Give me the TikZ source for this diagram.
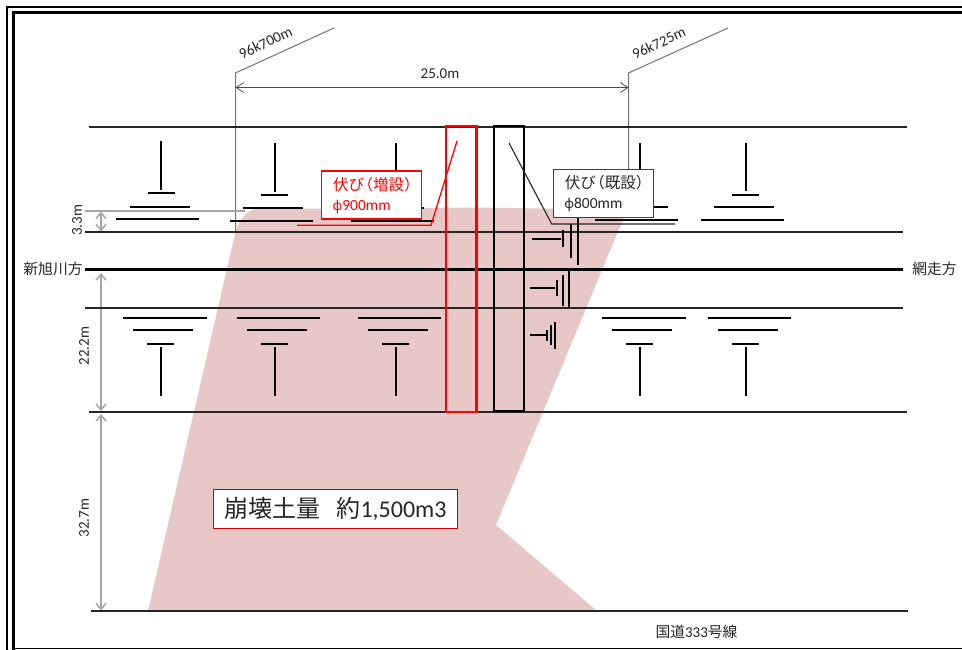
\documentclass[tikz,border=0pt]{standalone}
\usepackage{fontspec}
\usetikzlibrary{arrows.meta}
\setmainfont{Carlito}
\newfontfamily\cjk{Noto Sans CJK JP}
\newfontfamily\gk{Noto Sans}
\definecolor{soil}{HTML}{E8C7C7}
\definecolor{dimgrey}{HTML}{A6A6A6}
\definecolor{txt}{HTML}{262626}
\newcommand{\sz}[1]{\fontsize{#1}{20}\selectfont}
\tikzset{
  rail/.style={line width=1.8pt,draw=black!85},
  mainrail/.style={line width=2.6pt,draw=black},
  sleeper/.style={line width=2pt,draw=black},
  thinbar/.style={line width=1.6pt,draw=black},
  pipe/.style={line width=2.8pt},
  leader/.style={line width=1pt,draw=black!55},
  dim/.style={line width=1.5pt,draw=dimgrey,{Straight Barb[length=6pt,width=10pt]}-{Straight Barb[length=6pt,width=10pt]}},
  dimtop/.style={line width=0.8pt,draw=black!70,{Straight Barb[length=7.5pt,width=10pt]}-{Straight Barb[length=7.5pt,width=10pt]}},
  lab/.style={inner sep=0pt,text=txt,font=\sz{15}},
  callout/.style={draw,fill=white,line width=1.3pt,minimum width=100pt,minimum height=48pt,inner sep=0pt,align=left,font=\sz{15.5}},
}
\newcommand{\toprow}[5]{%
  \draw[sleeper] (#1,#2) -- (#1,#3-3.5);
  \draw[sleeper] (#1-13.5,#3) -- (#1+13.5,#3);
  \draw[sleeper] (#1-31.5,#4) -- (#1+28.5,#4);
  \draw[sleeper] (#1-45,#5) -- (#1+38,#5);}
\newcommand{\botrow}[1]{%
  \draw[sleeper] (#1-38,318) -- (#1+45.5,318);
  \draw[sleeper] (#1-28,330.3) -- (#1+32,330.3);
  \draw[sleeper] (#1-14,344) -- (#1+13,344);
  \draw[sleeper] (#1,347) -- (#1,396);}
\begin{document}
\begin{tikzpicture}[x=1pt,y=-1pt]
\useasboundingbox (0,0) rectangle (962,650);
\fill[white] (0,0) rectangle (962,650);
% soil
\fill[soil] (148,611) -- (235.5,232) .. controls (238,222) and (247,209) .. (257,209)
  -- (480,207.5) -- (627,210) -- (496,525) -- (597,611) -- cycle;
% frame
\draw[line width=2.6pt] (7,650) -- (7,7) -- (962,7);
\draw[line width=3pt] (13,650) -- (13,12.5) -- (962,12.5);
\draw[line width=1.6pt] (13,648.5) -- (962,648.5);
% km leaders
\coordinate (kmA) at (235.5,73);
\coordinate (kmB) at (628.5,73);
\draw[leader] (334,28) -- (kmA) -- (235.5,232);
\draw[leader] (728,28) -- (kmB) -- (628.5,205);
\draw[dimtop] (235.5,87.5) -- (628.5,87.5);
% dimension lines
\draw[line width=1.2pt,draw=dimgrey] (85,211) -- (245,211);
\draw[dim] (101,211.5) -- (101,231.5);
\draw[dim] (101,273) -- (101,411);
\draw[dim] (101,414) -- (101,610.5);
% rails
\draw[rail] (89,127) -- (907,127);
\draw[rail] (85,232) -- (903,232);
\draw[mainrail] (85,269.5) -- (903,269.5);
\draw[rail] (85,308) -- (903,308);
\draw[rail] (89,412) -- (907,412);
\draw[rail] (91,611) -- (908,611);
% sleepers, top row
\toprow{161}{141}{193.5}{207}{219}
\toprow{274.5}{143}{195.5}{208.5}{221}
\toprow{395.5}{143}{195.5}{208.5}{221}
\toprow{639.5}{143}{195}{207.5}{220.5}
\toprow{745.5}{143}{195}{207.5}{220.5}
% sleepers, bottom row
\botrow{161}
\botrow{274.5}
\botrow{395.5}
\botrow{640}
\botrow{745.5}
% sleepers beside the existing culvert
\draw[sleeper] (532,239) -- (561,239);
\draw[thinbar] (562.7,230) -- (562.7,246.5);
\draw[thinbar] (570.7,224) -- (570.7,257.5);
\draw[thinbar] (578,215) -- (578,265);
\draw[sleeper] (530,288) -- (555,288);
\draw[thinbar] (556.7,280) -- (556.7,296);
\draw[thinbar] (562.7,274.5) -- (562.7,306);
\draw[thinbar] (568.7,270) -- (568.7,308);
\draw[sleeper] (530,335) -- (546,335);
\draw[thinbar] (547,330) -- (547,341);
\draw[thinbar] (550.7,325) -- (550.7,344.5);
\draw[thinbar] (554.7,322) -- (554.7,349);
% culverts
\draw[pipe,draw=red] (446,126) rectangle (476.5,412);
\draw[pipe,draw=black] (494,126) rectangle (524,411);
% callout leaders
\draw[line width=1.3pt,draw=red] (457,141) -- (431,225.3) -- (297,225.3);
\draw[line width=1.1pt,draw=black!85] (509,143) -- (551.7,224) -- (675,224);
% callouts
\node[callout,draw=red,text=red] (newbox) at (371.5,195)
  {\hspace*{9.5pt}{\cjk 伏び\kern-6.5pt（増設）}\\\hspace*{9pt}{\gk\sz{13.5}ϕ}900mm};
\node[callout,draw=black!75,text=txt] (oldbox) at (603.3,193.3)
  {\hspace*{9.5pt}{\cjk 伏び\kern-6.5pt（既設）}\\\hspace*{9pt}{\gk\sz{13.5}ϕ}800mm};
\node[draw=red!80!black,fill=white,line width=1.1pt,minimum width=244.5pt,minimum height=39pt,inner sep=0pt,text=txt,font=\sz{24}] (volume) at (335.5,508.8)
  {{\cjk 崩壊土量}\hspace{16pt}{\cjk 約}1,500m3};
% labels
\node[lab,rotate=25] (kA) at (265.5,42.7) {96k700m};
\node[lab,rotate=25] (kB) at (658.7,43) {96k725m};
\node[lab] (span) at (440,73.5) {25.0m};
\node[lab,rotate=90] (d1) at (77,220.5) {3.3m};
\node[lab,rotate=90] (d2) at (84,346) {22.2m};
\node[lab,rotate=90] (d3) at (84,518) {32.7m};
\node[lab,font=\cjk\sz{14.8}] (west) at (53,269) {新旭川方};
\node[lab,font=\cjk\sz{14.8}] (east) at (934.5,268.5) {網走方};
\node[lab] (road) at (696.5,632) {{\cjk\sz{14.8}国道}333{\cjk\sz{14.8}号線}};
\end{tikzpicture}
\end{document}
